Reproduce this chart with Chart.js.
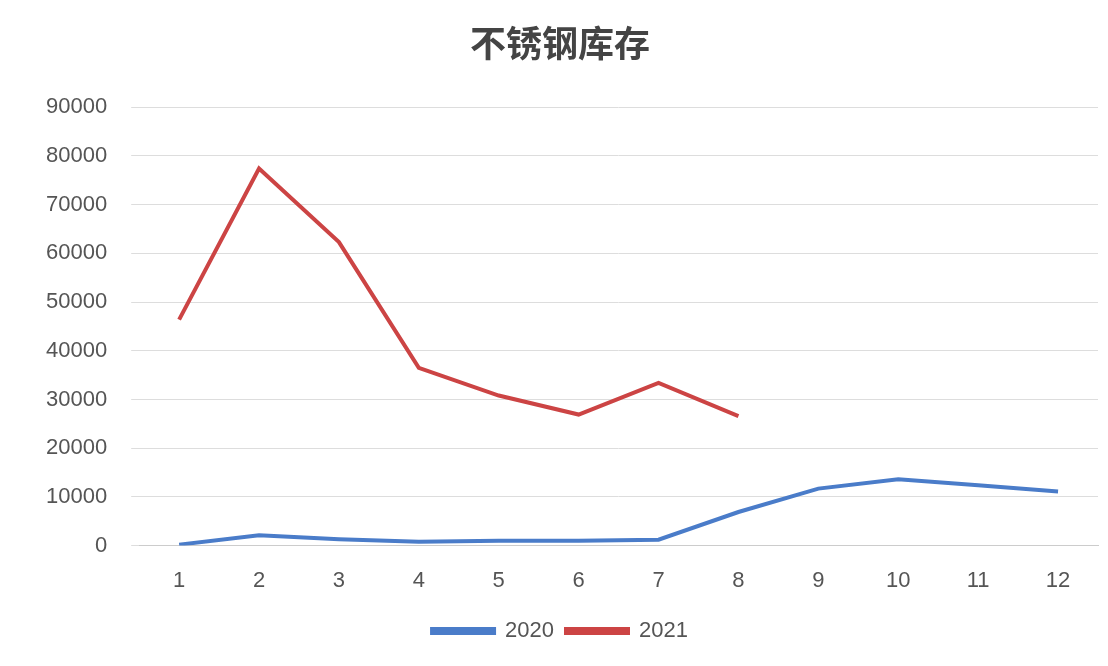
<!DOCTYPE html>
<html><head><meta charset="utf-8">
<script src="https://cdn.jsdelivr.net/npm/chart.js@4/dist/chart.umd.min.js"></script>
<style>body{margin:0;background:#fff}#wrap{width:1108px;height:666px}</style>
</head><body><div id="wrap"><canvas id="c"></canvas></div>
<script>
const months = ['1','2','3','4','5','6','7','8','9','10','11','12'];
const stock2020 = [200, 2100, 1300, 800, 1000, 1000, 1200, 6900, 11700, 13600, 12400, 11100];
const stock2021 = [46400, 77400, 62300, 36500, 30800, 26900, 33400, 26600, null, null, null, null];

new Chart(document.getElementById('c'), {
  type: 'line',
  data: {
    labels: months,
    datasets: [
      { label: '2020', data: stock2020, borderColor: '#4a7cc9', backgroundColor: '#4a7cc9', borderWidth: 4, pointRadius: 0, tension: 0 },
      { label: '2021', data: stock2021, borderColor: '#cc4444', backgroundColor: '#cc4444', borderWidth: 4, pointRadius: 0, tension: 0 }
    ]
  },
  options: {
    responsive: true, maintainAspectRatio: false, animation: false,
    layout: { padding: { left: 22, right: 10, top: 22, bottom: 14 } },
    plugins: {
      title: { display: true, text: '不锈钢库存', color: '#444', font: { family: 'Noto Sans CJK SC', size: 36, weight: 'bold' }, padding: { bottom: 42 } },
      legend: { position: 'bottom', labels: { boxWidth: 62, boxHeight: 4, color: '#555', font: { size: 22, family: 'Liberation Sans' }, padding: 12 } }
    },
    scales: {
      x: { offset: true, grid: { display: false }, border: { color: '#ccc' }, ticks: { padding: 14, color: '#555', font: { size: 22, family: 'Liberation Sans' } } },
      y: { min: 0, max: 90000, ticks: { stepSize: 10000, padding: 24, color: '#555', font: { size: 22, family: 'Liberation Sans' }, callback: v => String(v) }, grid: { color: '#ddd' }, border: { display: false } }
    }
  }
});
</script></body></html>
